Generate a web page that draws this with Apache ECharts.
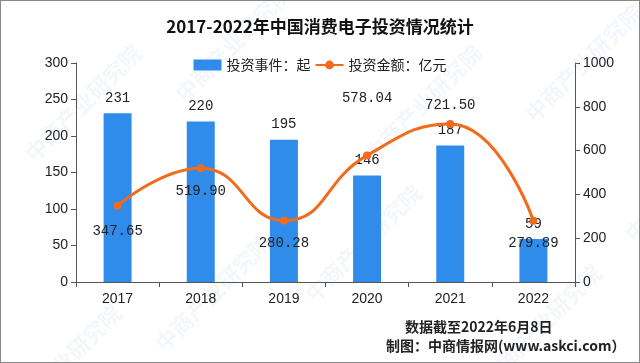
<!DOCTYPE html>
<html><head><meta charset="utf-8">
<script src="https://cdn.jsdelivr.net/npm/echarts@6/dist/echarts.min.js"></script>
<style>html,body{margin:0;padding:0;background:#fff}#c{width:638px;height:361px;border:1px solid #888}</style>
</head><body><div id="c"></div>
<script>
const categories = ['2017','2018','2019','2020','2021','2022'];
const eventCounts = [231, 220, 195, 146, 187, 59];
const amounts = [347.65, 519.90, 280.28, 578.04, 721.50, 279.89];
const leftTicks = [0, 50, 100, 150, 200, 250, 300];
const rightTicks = [0, 200, 400, 600, 800, 1000];
const labelPos = ['bottom','bottom','bottom','top','top','bottom'];
const labelOff = [[0,6],[0,4],[0,4],[0,-38],[0,0],[0,4]];

const chart = echarts.init(document.getElementById('c'));
const numFont = '"Liberation Mono","DejaVu Sans Mono",monospace';
const wm = [];
const wmPos = [[20,40],[150,230],[170,-20],[300,180],[360,40],[480,260],[520,0],[620,120],[0,300],[600,330]];
wmPos.forEach(p => wm.push({type:'text', left:p[0], top:p[1], rotation:Math.PI/4, silent:true, z:-1,
  style:{text:'中商产业研究院', fill:'rgba(120,170,220,0.09)', font:'bold 22px "Noto Sans CJK SC"'}}));
chart.setOption({
  animation:false,
  title:{text:'2017-2022年中国消费电子投资情况统计', left:'center', top:12,
    textStyle:{fontSize:17, fontWeight:'bold', color:'#111', fontFamily:'"Noto Sans CJK SC"'}},
  legend:{top:52, left:'center', itemWidth:28, itemHeight:11, itemGap:4,
    textStyle:{fontSize:14, color:'#222', fontFamily:'"Noto Sans CJK SC"'},
    data:[{name:'投资事件：起', icon:'rect'}, {name:'投资金额：亿元'}]},
  grid:{left:75, right:64, top:62, bottom:80},
  xAxis:{type:'category', data:categories,
    axisLine:{lineStyle:{color:'#555'}}, axisTick:{show:true, length:5, lineStyle:{color:'#555'}},
    axisLabel:{fontSize:14, color:'#222', margin:10, fontFamily:'"Liberation Sans"'}},
  yAxis:[
    {type:'value', min:0, max:300, interval:50, splitLine:{show:false},
     axisLine:{show:true, lineStyle:{color:'#555'}}, axisTick:{show:true, length:5, lineStyle:{color:'#555'}},
     axisLabel:{fontSize:14, color:'#222', margin:8, fontFamily:'"Liberation Sans"', formatter: v => String(v)}},
    {type:'value', min:0, max:1000, interval:200, splitLine:{show:false},
     axisLine:{show:true, lineStyle:{color:'#555'}}, axisTick:{show:true, length:5, lineStyle:{color:'#555'}},
     axisLabel:{fontSize:14, color:'#222', margin:8, fontFamily:'"Liberation Sans"', formatter: v => String(v)}}
  ],
  graphic: wm,
  series:[
    {name:'投资事件：起', type:'bar', yAxisIndex:0, data:eventCounts, barWidth:28,
     itemStyle:{color:'#2f8ceb'},
     label:{show:true, position:'top', distance:8, fontSize:14, color:'#222', fontFamily:numFont}},
    {name:'投资金额：亿元', type:'line', yAxisIndex:1, smooth:0.5, symbol:'circle', symbolSize:8,
     lineStyle:{color:'#f26a1b', width:3}, itemStyle:{color:'#f26a1b'},
     data: amounts.map((v,i)=>({value:v, label:{position:labelPos[i], offset:labelOff[i]}})),
     label:{show:true, fontSize:14, color:'#222', distance:8, fontFamily:numFont,
       formatter: p => p.value.toFixed(2)}}
  ]
});
</script>
<div style="position:absolute;left:0;top:0;width:640px;height:363px;pointer-events:none">
  <div style="position:absolute;left:405px;top:316px;font:bold 14px 'Noto Sans CJK SC';color:#222">数据截至2022年6月8日</div>
  <div style="position:absolute;left:386px;top:335px;font:bold 14px 'Noto Sans CJK SC';color:#222">制图：中商情报网(www.askci.com）</div>
</div>
</body></html>
